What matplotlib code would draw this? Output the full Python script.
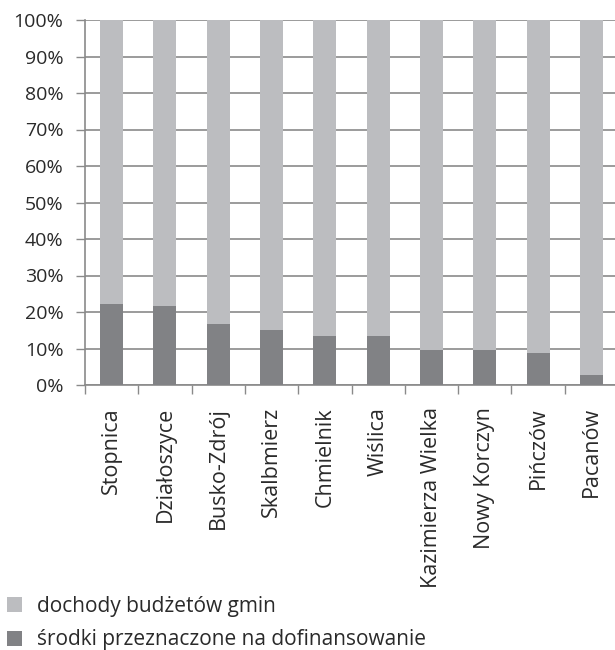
import matplotlib
matplotlib.use("Agg")
import matplotlib.pyplot as plt
from matplotlib.patches import Patch
import numpy as np

categories = ["Stopnica", "Działoszyce", "Busko-Zdrój", "Skalbmierz", "Chmielnik",
              "Wiślica", "Kazimierza Wielka", "Nowy Korczyn", "Pińczów", "Pacanów"]
srodki = [22.3, 21.6, 16.6, 15.2, 13.3, 13.3, 9.7, 9.7, 8.9, 2.8]
dochody = [100 - v for v in srodki]
ytick_labels = ["0%", "10%", "20%", "30%", "40%", "50%", "60%", "70%", "80%", "90%", "100%"]
legend_labels = ["dochody budżetów gmin", "środki przeznaczone na dofinansowanie"]

light = "#bcbdc0"
dark = "#818285"
txt = "#2a2a2a"
axc = "#8a8a8a"

plt.rcParams['font.family'] = ['Open Sans', 'DejaVu Sans']

fig = plt.figure(figsize=(6.15, 6.5), dpi=100)
W, H = 615, 650
left, right, bottom, top = 85, 618, 385, 20
ax = fig.add_axes([left / W, 1 - bottom / H, (right - left) / W, (bottom - top) / H])

x = np.arange(len(categories))
ax.bar(x, srodki, width=0.43, color=dark, zorder=3)
ax.bar(x, dochody, bottom=srodki, width=0.43, color=light, zorder=3)

ax.set_xlim(-0.5, len(categories) - 0.5)
ax.set_ylim(0, 100)
ax.set_yticks(np.arange(0, 101, 10))
ax.set_yticklabels(ytick_labels, fontsize=14, color=txt)
ax.yaxis.grid(True, color=axc, linewidth=1.2, zorder=1)
ax.set_axisbelow(True)

ax.set_xticks(x)
ax.set_xticklabels(categories, rotation=90, fontsize=15.5, color=txt, va="top")
ax.set_xticks(np.arange(-0.5, len(categories), 1), minor=True)
ax.tick_params(axis="x", which="major", length=0, pad=16)
ax.tick_params(axis="x", which="minor", length=6.5, width=1, color=axc, direction="out")
ax.tick_params(axis="y", length=6.5, width=1, color=axc, pad=9)

for s in ["top", "right"]:
    ax.spines[s].set_visible(False)
for s in ["left", "bottom"]:
    ax.spines[s].set_color(axc)
    ax.spines[s].set_linewidth(1.2)

handles = [Patch(facecolor=light, edgecolor="none"), Patch(facecolor=dark, edgecolor="none")]
fig.legend(handles, legend_labels, loc="upper left", bbox_to_anchor=(7 / W, 1 - 596 / H),
           frameon=False, fontsize=15, handlelength=0.72, handleheight=0.7,
           handletextpad=0.72, labelspacing=0.6, borderaxespad=0, borderpad=0,
           labelcolor=txt)

fig.savefig("out.png", dpi=100)
